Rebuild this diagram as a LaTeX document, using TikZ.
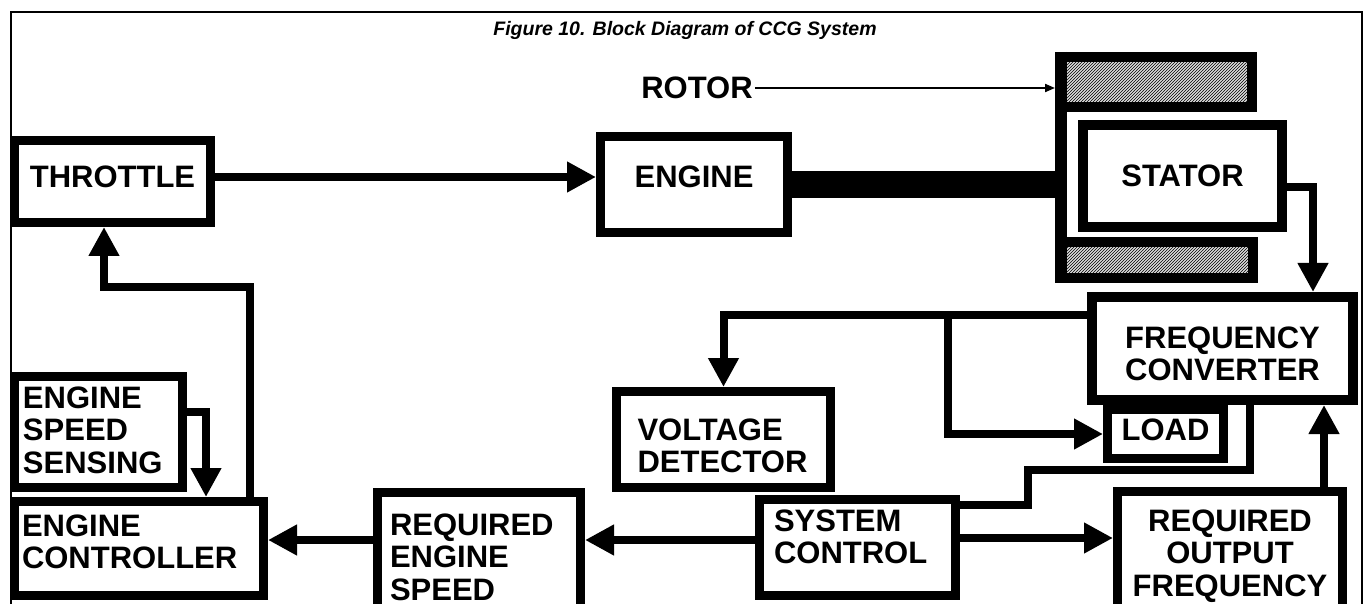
\documentclass[tikz,border=0pt]{standalone}
\usepackage{fontspec}
\setmainfont{Liberation Sans}
\usetikzlibrary{arrows.meta, patterns}
\newcommand{\padb}[1]{\rule[-#1]{0pt}{#1}}
\newcommand{\padt}[1]{\rule{0pt}{#1}}
\begin{document}
\begin{tikzpicture}[
  x=1pt, y=-1pt,
  blk/.style={draw, line width=9pt, fill=white, inner sep=0pt,
              font=\fontsize{31}{32.5}\selectfont\bfseries, align=center},
  lbl/.style={font=\fontsize{31}{32.5}\selectfont\bfseries, inner sep=2pt},
  rot/.style={draw, line width=10pt, inner sep=0pt,
              preaction={fill=gray!25}, pattern=north east lines},
  arr/.style={-{Triangle[length=29pt,width=29pt]}, line width=8pt},
  wire/.style={line width=8pt},
  thinarr/.style={-{Triangle[length=10pt,width=8pt]}, line width=2pt}
]
\useasboundingbox (0,0) rectangle (1369,604);
\clip (0,0) rectangle (1369,604);

% Frame and title
\draw[line width=2.5pt] (11,640) -- (11,12) -- (1362,12) -- (1362,640);
\node[font=\fontsize{19.5}{21}\selectfont\bfseries\itshape] (ttl) at (685,30)
  {Figure 10. Block Diagram of CCG System};

% Nodes
\node[blk, minimum width=196pt, minimum height=82pt]  (thr) at (112.5,181.5) {THROTTLE\padb{9pt}};
\node[blk, minimum width=187pt, minimum height=96pt]  (eng) at (694,184.5) {ENGINE\padb{15pt}};
\node[blk, line width=10pt, minimum width=199pt, minimum height=102pt] (sta) at (1182.5,176) {STATOR};
\node[rot, minimum width=192pt, minimum height=50pt]  (rtop) at (1156,82) {};
\node[rot, minimum width=193pt, minimum height=36pt]  (rbot) at (1156.5,260) {};
\node[lbl] (rtr) at (697,88) {ROTOR};
\node[blk, line width=10pt, minimum width=261pt, minimum height=103pt] (fc) at (1222.5,348.5)
  {\padt{32pt}FREQUENCY\\CONVERTER};
\node[blk, minimum width=116pt, minimum height=49pt]  (load) at (1165.5,434) {LOAD\padb{8pt}};
\node[blk, align=left, text width=172pt, minimum width=214pt, minimum height=96pt] (vd) at (723.5,439.5)
  {\padt{34pt}VOLTAGE\\DETECTOR};
\node[blk, align=left, text width=151pt, minimum width=168pt, minimum height=111pt] (ess) at (98.5,432)
  {ENGINE\\SPEED\\SENSING\padb{4pt}};
\node[blk, align=left, text width=234pt, minimum width=249pt, minimum height=94pt] (ctl) at (139,548.5)
  {ENGINE\\CONTROLLER\padb{14pt}};
\node[blk, align=left, text width=178pt, minimum width=203pt, minimum height=129pt] (res) at (479,557)
  {REQUIRED\\ENGINE\\SPEED};
\node[blk, align=left, text width=167pt, minimum width=196pt, minimum height=96pt] (sc) at (857.5,547.5)
  {SYSTEM\\CONTROL\padb{22pt}};
\node[blk, minimum width=225pt, minimum height=129pt] (rof) at (1230,556)
  {REQUIRED\\OUTPUT\\FREQUENCY};

% Shaft and rotor
\draw[line width=27pt] (eng.east) -- (eng.east -| rtop.west);
\draw[line width=12pt] ([xshift=6pt]rtop.north west) -- ([xshift=6pt]rbot.south west);
\draw[thinarr] (rtr.east) -- (rtr.east -| rtop.west);

% Connectors
\coordinate (jn) at (948,315);
\coordinate (fb) at (104,287);
\draw[arr] ([yshift=4.5pt]thr.east) -- ([yshift=4.5pt]thr.east -| eng.west);
\draw[arr] ([yshift=-11pt]sta.east) -| ([xshift=-45pt]fc.north east);
\draw[arr] ([yshift=33.5pt]fc.west) -| (vd.north);
\draw[arr] (jn) |- (load.west);
\draw[wire] ([yshift=42.5pt]sc.east) -| (1028,470) -| ([xshift=27.5pt]fc.south);
\draw[arr] ([yshift=9.5pt]sc.east) -- ([yshift=9.5pt]sc.east -| rof.west);
\draw[arr] ([yshift=7.5pt]sc.west) -- ([yshift=7.5pt]sc.west -| res.east);
\draw[arr] ([xshift=94pt]rof.north) -- ([xshift=94pt]rof.north |- fc.south);
\draw[arr] ([yshift=17pt]res.west) -- ([yshift=17pt]res.west -| ctl.east);
\draw[arr] ([yshift=20pt]ess.east) -| ([xshift=67pt]ctl.north);
\draw[arr] ([xshift=111pt]ctl.north) |- (fb) -- (fb |- thr.south);
\end{tikzpicture}
\end{document}
